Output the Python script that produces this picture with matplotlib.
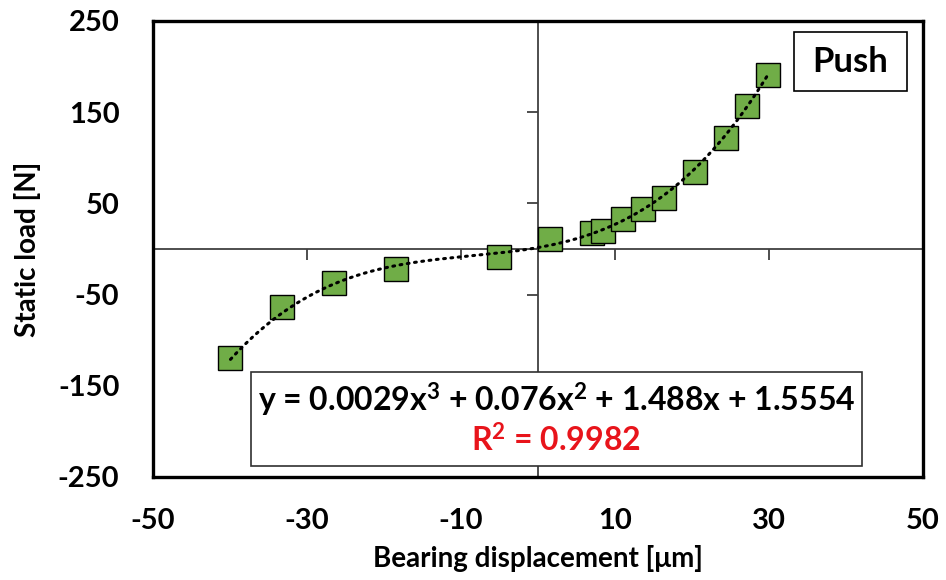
import numpy as np
import matplotlib
matplotlib.use('Agg')
import matplotlib.pyplot as plt
from matplotlib.patches import Rectangle

plt.rcParams['font.family'] = ['Lato', 'DejaVu Sans']
plt.rcParams['font.weight'] = 'bold'
plt.rcParams['axes.unicode_minus'] = False
plt.rcParams['mathtext.fontset'] = 'custom'
plt.rcParams['mathtext.rm'] = 'Lato:bold'
plt.rcParams['mathtext.bf'] = 'Lato:bold'
plt.rcParams['mathtext.default'] = 'bf'

# ── 数据 ──────────────────────────────────────────────
disp = [-39.9, -33.2, -26.4, -18.4, -5.0, 1.6, 7.0, 8.4, 11.0, 13.7, 16.4, 20.4, 24.4, 27.1, 29.9]
load = [-119.5, -63.6, -37.3, -21.9, -8.8, 11.5, 17.9, 20.1, 33.4, 44.0, 55.4, 83.9, 121.9, 156.6, 191.0]
coef = [0.0029, 0.076, 1.488, 1.5554]   # cubic trendline, highest power first
xticks = [-50, -30, -10, 10, 30, 50]
yticks = [250, 150, 50, -50, -150, -250]

GREEN = '#70AD47'

fig = plt.figure(figsize=(9.46, 5.8), dpi=100)
fig.patch.set_facecolor('white')
pos = [0.1614, 0.1776, 0.8143, 0.7862]
ax = fig.add_axes(pos)

# zero axes with tick marks (second axes sharing scales)
az = fig.add_axes(pos, sharex=ax, sharey=ax)
az.patch.set_visible(False)
for s in ['top', 'right']:
    az.spines[s].set_visible(False)
az.spines['left'].set_position('zero')
az.spines['bottom'].set_position('zero')
for s in ['left', 'bottom']:
    az.spines[s].set_color('#404040')
    az.spines[s].set_linewidth(1.3)
az.tick_params(direction='out', length=8, width=1.3, color='#404040',
               labelleft=False, labelbottom=False)
az.set_zorder(0)
ax.set_zorder(1)
ax.patch.set_visible(False)

# trendline
xf = np.linspace(min(disp), max(disp), 300)
ax.plot(xf, np.polyval(coef, xf), color='black', ls=(0, (0.6, 1.8)), lw=2.2,
        dash_capstyle='round', zorder=4)
ax.plot(disp, load, ls='none', marker='s', ms=17.5, mfc=GREEN, mec='black',
        mew=1.0, zorder=3)

ax.set_xlim(-50, 50)
ax.set_ylim(-250, 250)
ax.set_xticks(xticks)
ax.set_yticks(yticks)
ax.tick_params(length=0, labelsize=21, pad=22)
ax.tick_params(axis='y', pad=24)
for lb in ax.get_xticklabels() + ax.get_yticklabels():
    lb.set_fontweight('bold')
for s in ax.spines.values():
    s.set_linewidth(2.4)
    s.set_color('black')

ax.set_xlabel('Bearing displacement [μm]', fontsize=20, fontweight='bold', labelpad=8)
ax.set_ylabel('Static load [N]', fontsize=20, fontweight='bold', labelpad=12)

# equation box
ax.add_patch(Rectangle((0.1276, 0.0241), 0.7932, 0.2062, transform=ax.transAxes,
                       fill=True, facecolor='white', edgecolor='#303030', lw=1.2, zorder=5))
ax.text(0.524, 0.169, 'y = 0.0029x$^{3}$ + 0.076x$^{2}$ + 1.488x + 1.5554',
        transform=ax.transAxes, ha='center', va='center', fontsize=23,
        fontweight='bold', color='black', zorder=6)
ax.text(0.524, 0.081, 'R$^{2}$ = 0.9982', transform=ax.transAxes, ha='center',
        va='center', fontsize=23, fontweight='bold', color='#E8141B', zorder=6)

# Push label box
ax.add_patch(Rectangle((0.8326, 0.846), 0.1465, 0.130, transform=ax.transAxes,
                       facecolor='white', edgecolor='black', lw=1.2, zorder=5))
ax.text(0.9058, 0.911, 'Push', transform=ax.transAxes, ha='center', va='center',
        fontsize=25, fontweight='bold', zorder=6)

plt.savefig('out.png', dpi=100, facecolor='white')
plt.close()
